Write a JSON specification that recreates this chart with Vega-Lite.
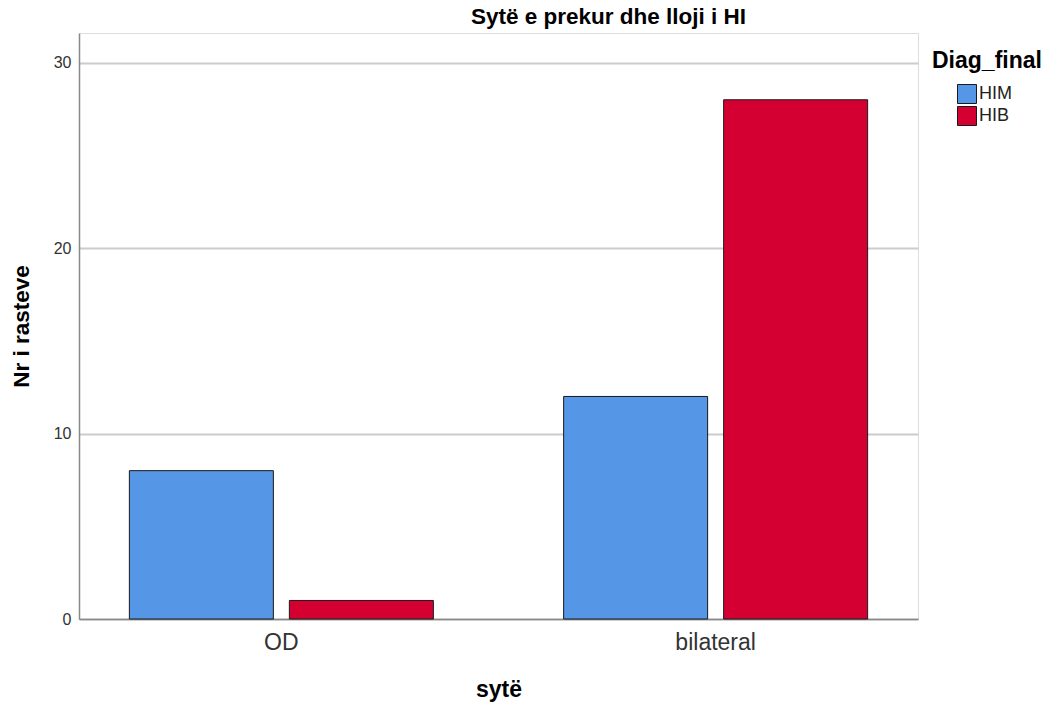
{
  "$schema": "https://vega.github.io/schema/vega-lite/v6.json",
  "autosize": "none",
  "width": 839,
  "height": 586,
  "padding": {"left": 79, "top": 33, "right": 128, "bottom": 86},
  "background": "white",
  "title": {
    "text": "Sytë e prekur dhe lloji i HI",
    "anchor": "middle",
    "frame": "group",
    "dx": 110,
    "fontSize": 22.5,
    "fontWeight": "bold",
    "font": "Liberation Sans",
    "color": "#000000",
    "offset": 5
  },
  "data": {
    "values": [
      {"syte": "OD", "Diag_final": "HIM", "count": 8},
      {"syte": "OD", "Diag_final": "HIB", "count": 1},
      {"syte": "bilateral", "Diag_final": "HIM", "count": 12},
      {"syte": "bilateral", "Diag_final": "HIB", "count": 28}
    ]
  },
  "mark": {"type": "bar", "stroke": "#1a1a1a", "strokeWidth": 1},
  "encoding": {
    "x": {
      "field": "syte",
      "type": "nominal",
      "sort": ["OD", "bilateral"],
      "scale": {"paddingInner": 0.3, "paddingOuter": 0.116},
      "axis": {
        "title": "sytë",
        "labelAngle": 0,
        "ticks": false,
        "labelFontSize": 23,
        "labelColor": "#333333",
        "labelFont": "Liberation Sans",
        "labelPadding": 12,
        "titleFontSize": 23,
        "titleFont": "Liberation Sans",
        "titleFontWeight": "bold",
        "titleColor": "#000000",
        "titlePadding": 24,
        "domainColor": "#888888",
        "domainWidth": 1.5,
        "grid": false
      }
    },
    "xOffset": {
      "field": "Diag_final",
      "type": "nominal",
      "sort": ["HIM", "HIB"],
      "scale": {"paddingInner": 0.1, "paddingOuter": 0}
    },
    "y": {
      "field": "count",
      "type": "quantitative",
      "scale": {"domain": [0, 31.6], "nice": false, "zero": true},
      "axis": {
        "title": "Nr i rasteve",
        "values": [0, 10, 20, 30],
        "ticks": false,
        "labelFontSize": 16,
        "labelColor": "#333333",
        "labelFont": "Liberation Sans",
        "labelPadding": 8,
        "titleFontSize": 22.5,
        "titleFont": "Liberation Sans",
        "titleFontWeight": "bold",
        "titleColor": "#000000",
        "titlePadding": 20,
        "domainColor": "#888888",
        "domainWidth": 1.5,
        "grid": true,
        "gridColor": "#cccccc",
        "gridWidth": 2
      }
    },
    "color": {
      "field": "Diag_final",
      "type": "nominal",
      "sort": ["HIM", "HIB"],
      "scale": {"domain": ["HIM", "HIB"], "range": ["#5596E6", "#D50032"]},
      "legend": {
        "title": "Diag_final",
        "orient": "none",
        "legendX": 853,
        "legendY": 17,
        "titleFontSize": 23,
        "titleFont": "Liberation Sans",
        "titleFontWeight": "bold",
        "titleColor": "#000000",
        "titlePadding": 11,
        "titleLimit": 200,
        "symbolType": "square",
        "symbolSize": 361,
        "symbolStrokeColor": "#1a1a1a",
        "symbolStrokeWidth": 1,
        "symbolOffset": 25,
        "labelFontSize": 18,
        "labelFont": "Liberation Sans",
        "labelColor": "#222222",
        "labelOffset": 2,
        "rowPadding": -2
      }
    }
  }
}
